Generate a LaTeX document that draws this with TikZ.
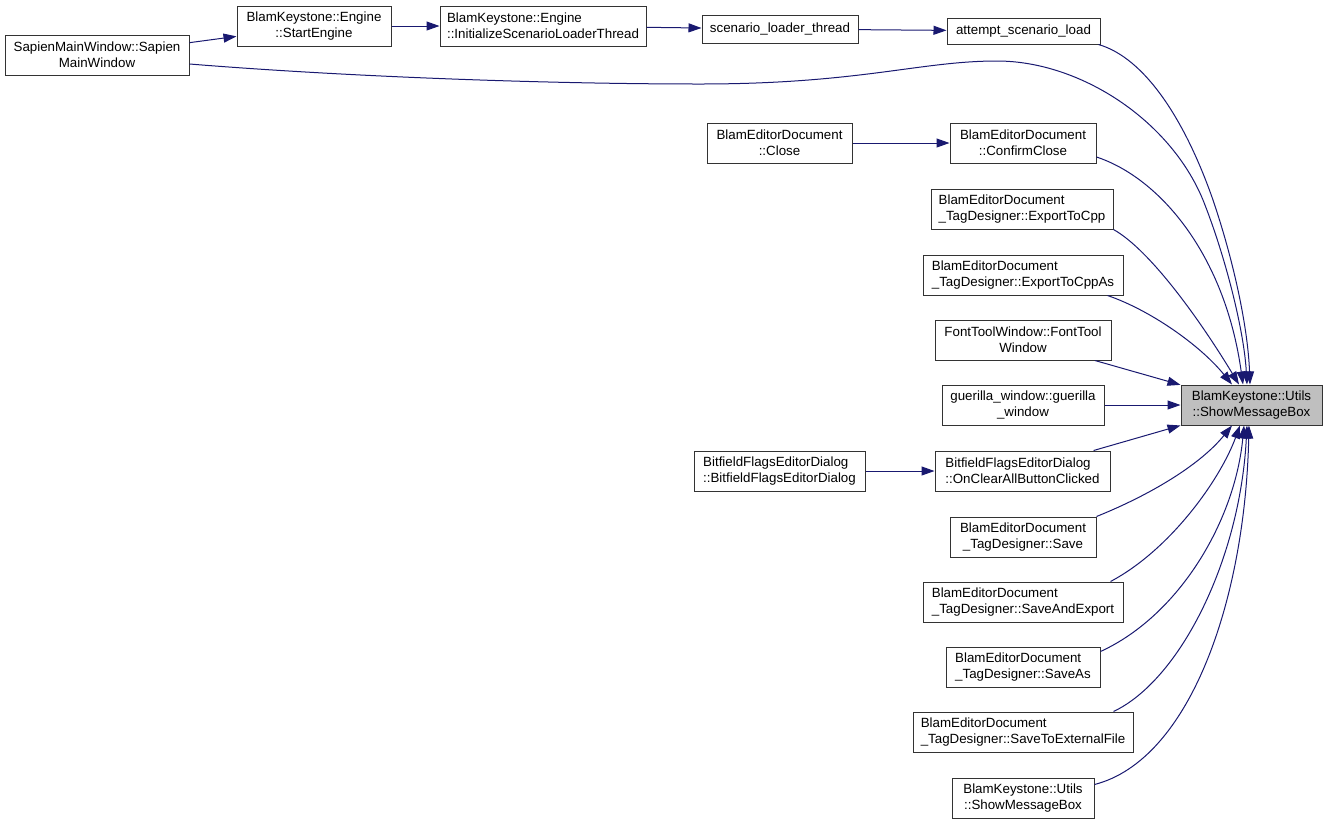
\documentclass[tikz,border=0pt]{standalone}
\usepackage{fontspec}
\setmainfont{Liberation Sans}
\usetikzlibrary{arrows.meta,calc}
\definecolor{edgeblue}{HTML}{191970}
\definecolor{tgtgray}{HTML}{BFBFBF}
\tikzset{
  fn/.style={draw=black!80, line width=1pt, fill=white, inner sep=0pt, align=center,
    font=\fontsize{13.33}{16}\selectfont},
  fnl/.style={fn, align=left},
  edge/.style={draw=edgeblue, line width=1pt, -{Triangle[length=13pt,width=9pt]}}
}
\begin{document}
\begin{tikzpicture}[x=1pt,y=-1pt]
\path[use as bounding box] (0,0) rectangle (1328,823);

\node[fn, minimum width=184, minimum height=40] (sapien) at (97,55) {SapienMainWindow::Sapien\\MainWindow};
\node[fn, minimum width=154, minimum height=40] (start) at (314,26) {BlamKeystone::Engine\\::StartEngine};
\node[fnl, minimum width=206, minimum height=40] (init) at (543,26) {BlamKeystone::Engine\\::InitializeScenarioLoaderThread};
\node[fn, minimum width=156, minimum height=28] (slt) at (780,29) {scenario\_loader\_thread};
\node[fn, minimum width=153, minimum height=26] (attempt) at (1023.5,31) {attempt\_scenario\_load};
\node[fn, minimum width=145, minimum height=40] (close) at (779.5,143) {BlamEditorDocument\\::Close};
\node[fn, minimum width=146, minimum height=40] (confirm) at (1023,143) {BlamEditorDocument\\::ConfirmClose};
\node[fnl, minimum width=182, minimum height=40] (exp) at (1022,209) {BlamEditorDocument\\\_TagDesigner::ExportToCpp};
\node[fnl, minimum width=200, minimum height=40] (expas) at (1023,275) {BlamEditorDocument\\\_TagDesigner::ExportToCppAs};
\node[fn, minimum width=176, minimum height=40] (font) at (1023,340) {FontToolWindow::FontTool\\Window};
\node[fn, minimum width=162, minimum height=40] (guer) at (1023,405) {guerilla\_window::guerilla\\\_window};
\node[fn, fill=tgtgray, minimum width=141, minimum height=40] (tgt) at (1251.5,405) {BlamKeystone::Utils\\::ShowMessageBox};
\node[fnl, minimum width=171, minimum height=40] (bfd) at (779.5,471) {BitfieldFlagsEditorDialog\\::BitfieldFlagsEditorDialog};
\node[fnl, minimum width=175, minimum height=40] (clear) at (1022.5,471) {BitfieldFlagsEditorDialog\\::OnClearAllButtonClicked};
\node[fn, minimum width=146, minimum height=40] (save) at (1023,537) {BlamEditorDocument\\\_TagDesigner::Save};
\node[fnl, minimum width=200, minimum height=40] (saveexp) at (1023,602) {BlamEditorDocument\\\_TagDesigner::SaveAndExport};
\node[fnl, minimum width=154, minimum height=40] (saveas) at (1023,667) {BlamEditorDocument\\\_TagDesigner::SaveAs};
\node[fnl, minimum width=220, minimum height=40] (saveext) at (1023,732) {BlamEditorDocument\\\_TagDesigner::SaveToExternalFile};
\node[fn, minimum width=142, minimum height=40] (smb) at (1023,798) {BlamKeystone::Utils\\::ShowMessageBox};

% straight edges
\draw[edge] (sapien) -- (start);
\draw[edge] (start) -- (init);
\draw[edge] (init) -- (slt);
\draw[edge] (slt) -- (attempt);
\draw[edge] (close) -- (confirm);
\draw[edge] (bfd) -- (clear);
\draw[edge] (font) -- (tgt);
\draw[edge] (guer) -- (tgt);
\draw[edge] (clear) -- (tgt);

% curved edges into the top of the target
\draw[edge] ($(attempt.south east)+(-2,0)$) .. controls (1145,58) and (1185,120) .. (1213,200)
  .. controls (1235,265) and (1248,330) .. ($(tgt.north)+(-1.5,0)$);
\draw[edge] ($(sapien.east)+(0,9)$) .. controls (350,77) and (550,84) .. (700,84)
  .. controls (860,84) and (920,61) .. (997,61)
  .. controls (1080,61) and (1170,120) .. (1203,200)
  .. controls (1225,255) and (1244,330) .. ($(tgt.north)+(-4.5,0)$);
\draw[edge] ($(confirm.east)+(0,14)$) .. controls (1160,178) and (1225,255) .. ($(tgt.north)+(-8.5,0)$);
\draw[edge] (exp.south east) .. controls (1150,250) and (1200,320) .. ($(tgt.north)+(-12.5,0)$);
\draw[edge] ($(expas.south east)+(-16,0)$) .. controls (1150,310) and (1200,345) .. ($(tgt.north)+(-19.5,0)$);

% curved edges into the bottom of the target
\draw[edge] (save.north east) .. controls (1150,495) and (1200,465) .. ($(tgt.south)+(-19.5,0)$);
\draw[edge] ($(saveexp.north east)+(-13,0)$) .. controls (1170,550) and (1220,480) .. ($(tgt.south)+(-11.5,0)$);
\draw[edge] ($(saveas.north east)+(0,5)$) .. controls (1180,615) and (1235,520) .. ($(tgt.south)+(-7.5,0)$);
\draw[edge] ($(saveext.north east)+(-20,0)$) .. controls (1180,680) and (1240,560) .. ($(tgt.south)+(-4.5,0)$);
\draw[edge] ($(smb.north east)+(0,7)$) .. controls (1190,760) and (1245,600) .. ($(tgt.south)+(-2.5,0)$);
\end{tikzpicture}
\end{document}
